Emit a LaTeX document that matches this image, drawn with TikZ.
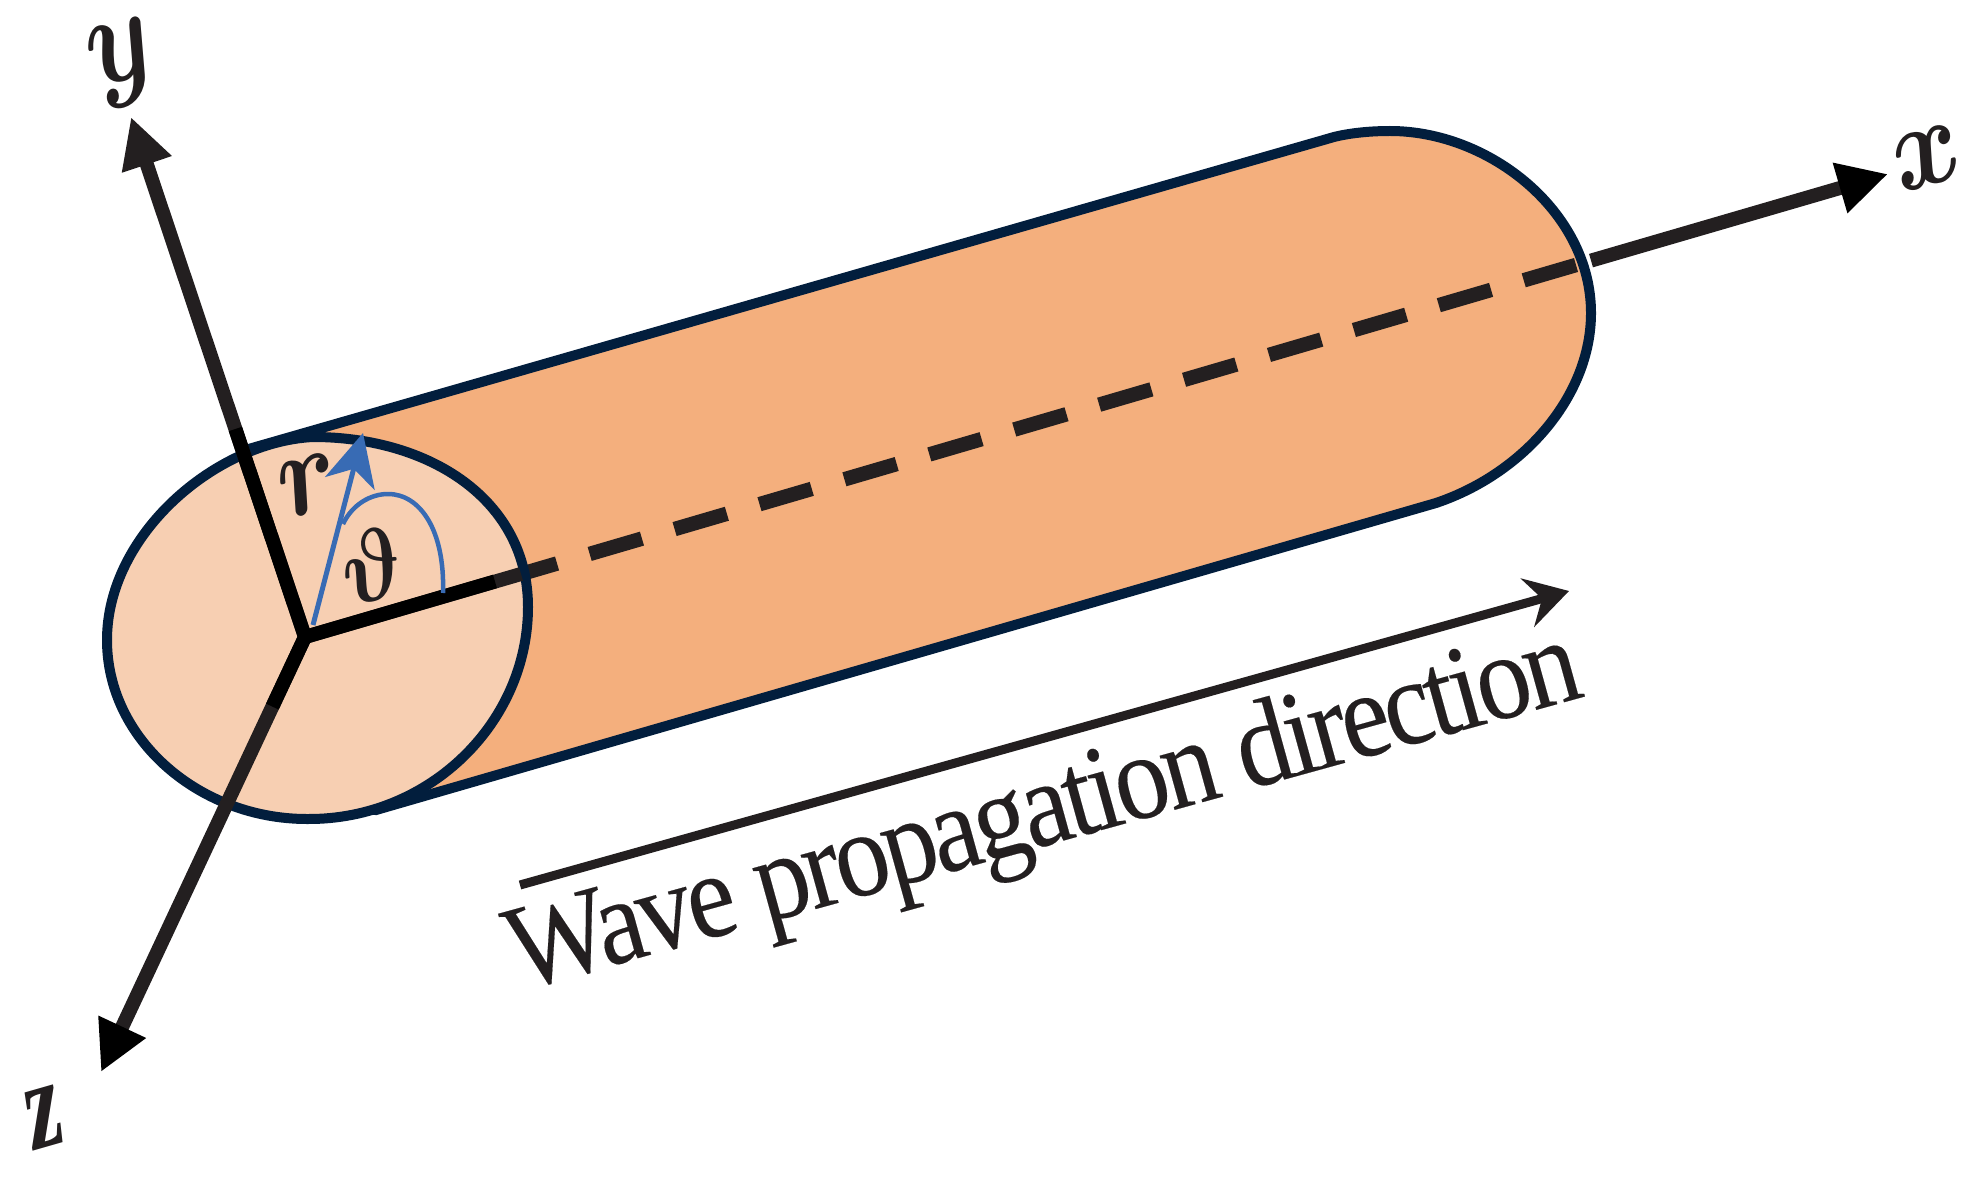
\documentclass[tikz,border=0pt]{standalone}
\usepackage{fontspec}
\setmainfont{Liberation Serif}
\newfontfamily\wavefont[LetterSpace=-4,FakeBold=.15]{Liberation Serif}
\usetikzlibrary{arrows.meta,calc}
\definecolor{tubecol}{HTML}{F4AF7D}
\definecolor{capcol}{HTML}{F7CFB2}
\definecolor{edgecol}{HTML}{021E3D}
\definecolor{axiscol}{HTML}{231F20}
\definecolor{bluecol}{HTML}{386BB4}
\tikzset{
  tubeline/.style={draw=edgecol,line width=.2cm,line join=round},
  axisline/.style={draw=axiscol,line width=.28cm},
  axishead/.style={-{Stealth[length=1cm,width=.98cm,inset=0pt,color=#1,fill=#1]}},
  varlabel/.style={text=axiscol,inner sep=0pt,font=\Huge\boldmath,rotate=16},
}
\begin{document}
\begin{tikzpicture}[x=.02cm,y=-.02cm]
  \useasboundingbox (0,0) rectangle (1976,1182);
  \coordinate (O) at (305,637);
  \coordinate (xtip) at (1888,174);
  \coordinate (ytip) at (131,117);
  \coordinate (ztip) at (101,1072);
  \coordinate (xfar) at (1591,260.6);
  \coordinate (xdash) at (1576,265);
  \coordinate (xrim) at (521,574);
  \coordinate (xnear) at (528,572);
  \coordinate (xblack) at ($(O)!.12!(xtip)$);
  \coordinate (yblack) at ($(O)!.4!(ytip)$);
  \coordinate (zblack) at ($(O)!.16!(ztip)$);
  \coordinate (rtip) at (363,433);
  \coordinate (rfoot) at (313,625);
  \coordinate (wavestart) at (520,885);
  \coordinate (wavetip) at (1569,591);
  % tube
  \path[fill=tubecol,tubeline] (250,448.6) -- (1334,137)
    .. controls (1350,133) and (1370,131) .. (1390,131)
    .. controls (1490,131) and (1591,212) .. (1591,313)
    .. controls (1591,395) and (1525,473) .. (1436,503)
    -- (375,810.3) -- cycle;
  \draw[axisline,line width=.29cm,dash pattern=on 1.09cm off .68cm] (xdash) -- (xnear);
  % near end
  \path[fill=capcol,tubeline] (313,437)
    .. controls (430,437) and (528,500) .. (528,607)
    .. controls (528,722) and (430,820) .. (307,819)
    .. controls (200,819) and (107,740) .. (107,640)
    .. controls (107,535) and (215,442) .. (313,437) -- cycle;
  % axes
  \draw[axisline] (xrim) -- (O);
  \draw[axisline,axishead=black] (xfar) -- (xtip);
  \draw[axisline,axishead=axiscol] (O) -- (ytip);
  \draw[axisline,axishead=black] (O) -- (ztip);
  \draw[axisline,draw=black] (yblack) -- (O) -- (xblack);
  \draw[axisline,draw=black] (O) -- (zblack);
  % r and angle
  \draw[bluecol,line width=.1cm,-{Stealth[length=1.04cm,width=1.02cm,inset=.3cm]}] (rfoot) -- (rtip);
  \draw[bluecol,line width=.09cm] (443,593) .. controls (445,530) and (420,494) .. (388,494)
    .. controls (370,494) and (352,505) .. (343,524);
  % wave direction
  \draw[axiscol,line width=.18cm,-{Stealth[length=.86cm,width=1cm,inset=.3cm]}] (wavestart) -- (wavetip);
  \node[text=axiscol,inner sep=0pt,rotate=15.45,anchor=base west,font=\fontsize{62}{66}\wavefont] (wavelabel) at (519,991) {\scalebox{1}[1.12]{Wave propagation direction}};
  \node[varlabel] (xlabel) at (1927,158) {\scalebox{2.4}[2.8]{$x$}};
  \node[varlabel] (ylabel) at (124,64) {\scalebox{2.4}[3]{$y$}};
  \node[varlabel] (zlabel) at (45,1118) {\scalebox{2.1}[2.9]{\bfseries\itshape z}};
  \node[varlabel] (rlabel) at (309,485) {\scalebox{2.5}[2.8]{$r$}};
  \node[varlabel] (anglelabel) at (371,566) {\scalebox{2}[2.3]{$\vartheta$}};
\end{tikzpicture}
\end{document}
